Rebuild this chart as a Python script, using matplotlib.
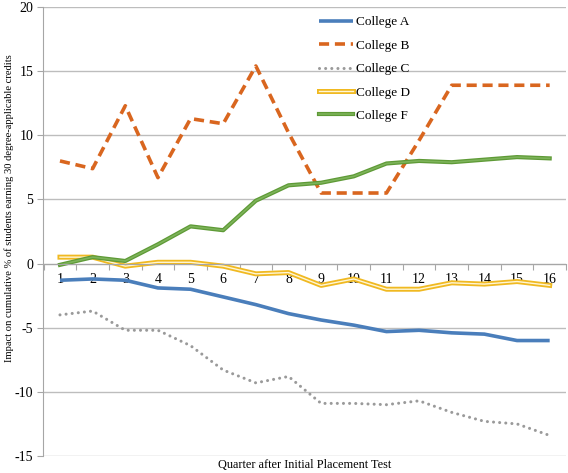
import matplotlib
matplotlib.use("Agg")
import matplotlib.pyplot as plt
import matplotlib.patheffects as pe
import numpy as np

plt.rcParams['font.family'] = ['Liberation Serif', 'DejaVu Serif']
plt.rcParams['axes.unicode_minus'] = False

quarters = list(range(1, 17))
college_a = [-1.3, -1.2, -1.3, -1.9, -2.0, -2.6, -3.2, -3.9, -4.4, -4.8, -5.3, -5.2, -5.4, -5.5, -6.0, -6.0]
college_b = [8.0, 7.4, 12.3, 6.7, 11.3, 10.9, 15.4, 10.2, 5.5, 5.5, 5.5, 9.6, 13.9, 13.9, 13.9, 13.9]
college_c = [-4.0, -3.7, -5.2, -5.2, -6.4, -8.3, -9.3, -8.8, -10.9, -10.9, -11.0, -10.7, -11.6, -12.3, -12.5, -13.4]
college_d = [0.5, 0.5, -0.2, 0.1, 0.1, -0.2, -0.8, -0.7, -1.7, -1.2, -2.0, -2.0, -1.5, -1.6, -1.4, -1.7]
college_f = [-0.1, 0.5, 0.2, 1.5, 2.9, 2.6, 4.9, 6.1, 6.3, 6.8, 7.8, 8.0, 7.9, 8.1, 8.3, 8.2]
yticks = [-15, -10, -5, 0, 5, 10, 15, 20]

fig = plt.figure(figsize=(5.68, 4.73), dpi=100)
ax = fig.add_axes([43/568, 17/473, 523/568, 449/473])

ax.plot(quarters, college_a, color='#4A7EBB', lw=2.6, label='College A', solid_capstyle='butt')
ax.plot(quarters, college_b, color='#D9661F', lw=2.6, dashes=(2.8, 1.6), label='College B')
ax.plot(quarters, college_c, color='#9A9A9A', lw=2.2, linestyle=(0, (0.01, 2.0)), dash_capstyle='round', label='College C')
ax.plot(quarters, college_d, color='#FFF6D5', lw=1.0, label='College D',
        path_effects=[pe.Stroke(linewidth=3.6, foreground='#F0B921'), pe.Normal()])
ax.plot(quarters, college_f, color='#7DB35A', lw=1.2, label='College F',
        path_effects=[pe.Stroke(linewidth=3.0, foreground='#5E9A36'), pe.Normal()])

ax.set_xlim(0.48, 16.5)
ax.set_ylim(-15, 20)
ax.set_yticks(yticks)
ax.set_yticklabels([str(t) for t in yticks], fontsize=10)
ax.yaxis.grid(True, color='#BDBDBD', lw=1.0)
ax.set_axisbelow(True)

for s in ['top', 'right']:
    ax.spines[s].set_visible(False)
ax.spines['left'].set_color('#A6A6A6')
ax.spines['bottom'].set_position(('data', 0))
ax.spines['bottom'].set_color('#A6A6A6')

ax.set_xticks(np.arange(0.5, 17.0, 1.0))
ax.set_xticklabels([])
ax.set_xticks(quarters, minor=True)
ax.set_xticklabels([str(q) for q in quarters], minor=True, fontsize=10)
ax.tick_params(axis='x', which='major', direction='out', length=4, color='#A6A6A6')
ax.tick_params(axis='x', which='minor', length=0, pad=7)
ax.tick_params(axis='y', direction='out', length=4, color='#A6A6A6', pad=3)

fig.text(0.016, 1 - 208/473, 'Impact on cumulative % of students earning 30 degree-applicable credits',
         rotation=90, ha='center', va='center', fontsize=7.6)
fig.text(305/568, 1 - 465/473, 'Quarter after Initial Placement Test', ha='center', va='center', fontsize=8.8)

leg = ax.legend(loc='upper left', bbox_to_anchor=((319 - 43)/523, (456 - 16)/449), frameon=False, fontsize=9.5,
                handlelength=2.58, handletextpad=0.25, labelspacing=0.85, borderpad=0, borderaxespad=0)

fig.savefig('out.png', dpi=100)
